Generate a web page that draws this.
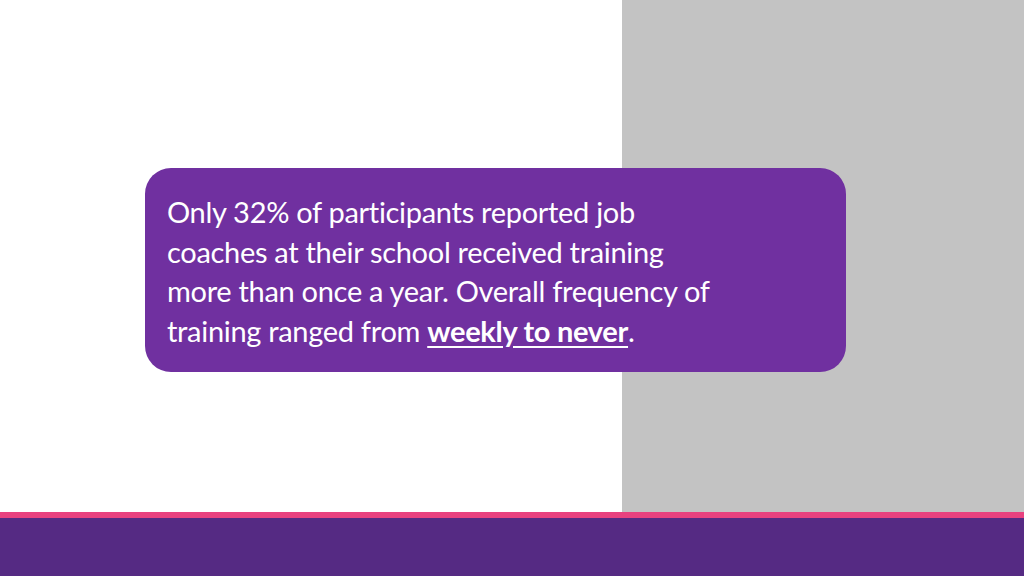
<!DOCTYPE html>
<html>
<head>
<meta charset="utf-8">
<script src="https://cdn.jsdelivr.net/npm/chart.js@4"></script>
<style>
  html, body { margin: 0; padding: 0; }
  body { width: 1024px; height: 576px; position: relative; overflow: hidden; background: #fff; font-family: Lato, "Open Sans", sans-serif; }
  .grey { position: absolute; left: 622px; top: 0; width: 402px; height: 512px; background: #c3c3c3; }
  .pink { position: absolute; left: 0; top: 512px; width: 1024px; height: 6px; background: #e8417f; }
  .footer { position: absolute; left: 0; top: 518px; width: 1024px; height: 58px; background: #552a83; }
  .box { position: absolute; left: 145px; top: 168px; width: 701px; height: 204px; background: #7030a0; border-radius: 26px; }
  .box p { margin: 0; position: absolute; left: 22px; top: 24px; color: #fff; font-size: 29px; line-height: 39.5px; letter-spacing: -0.3px; }
  .box u { font-weight: bold; text-underline-offset: 4px; }
</style>
</head>
<body>
<div class="grey"></div>
<div class="pink"></div>
<div class="footer"></div>
<div class="box"><p id="msg"></p></div>
<script>
// slide text, one entry per line
const lines = [
  "Only 32% of participants reported job",
  "coaches at their school received training",
  "more than once a year. Overall frequency of",
  "training ranged from "
];
const emphasis = "weekly to never";

const msg = document.getElementById('msg');
msg.innerHTML = lines.join('<br>') + '<u>' + emphasis + '</u>.';
</script>
</body>
</html>
